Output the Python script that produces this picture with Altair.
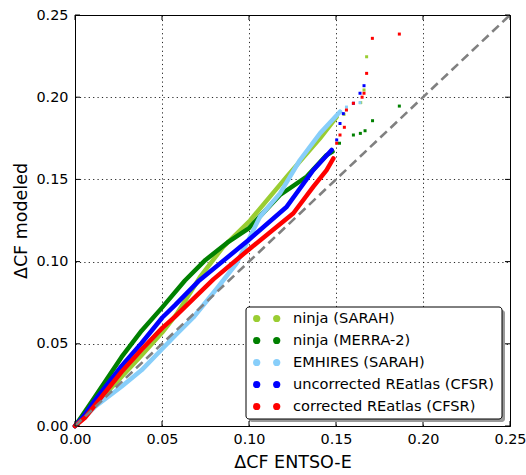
import altair as alt
import pandas as pd

FONT = "DejaVu Sans"

names = ["ninja (SARAH)", "ninja (MERRA-2)", "EMHIRES (SARAH)",
         "uncorrected REatlas (CFSR)", "corrected REatlas (CFSR)"]
colors = ["#9acd32", "#008000", "#87cefa", "#0000ff", "#ff0000"]

# ninja (SARAH)
sarah_x = [0, 0.005, 0.0153, 0.0268, 0.0383, 0.0502, 0.0584, 0.0718, 0.0852, 0.1006, 0.1217, 0.1408, 0.1504,
           0.1546, 0.1642, 0.1661, 0.1676]
sarah_y = [0, 0.006, 0.017, 0.030, 0.043, 0.057, 0.068, 0.0905, 0.109, 0.125, 0.1517, 0.175, 0.188,
           0.1896, 0.1967, 0.2044, 0.2246]
sarah_n_line = 13

# ninja (MERRA-2)
merra_x = [0, 0.0038, 0.0115, 0.0192, 0.0268, 0.0383, 0.050, 0.0632, 0.075, 0.0875, 0.0996, 0.1178, 0.1332,
           0.1446, 0.148,
           0.152, 0.160, 0.164, 0.1667, 0.171, 0.1864]
merra_y = [0, 0.0057, 0.0178, 0.030, 0.042, 0.058, 0.072, 0.0885, 0.101, 0.1115, 0.120, 0.1405, 0.1517,
           0.1648, 0.1669,
           0.172, 0.177, 0.178, 0.1796, 0.1857, 0.1946]
merra_n_line = 15

# EMHIRES (SARAH)
emhires_x = [0, 0.0115, 0.0268, 0.0383, 0.0502, 0.0575, 0.068, 0.0814, 0.0929, 0.1006, 0.1063, 0.1178, 0.1293,
             0.1408, 0.1523, 0.156, 0.1638]
emhires_y = [0, 0.0117, 0.024, 0.034, 0.047, 0.055, 0.066, 0.0835, 0.099, 0.1151, 0.1273, 0.1415, 0.1618,
             0.178, 0.1912, 0.194, 0.1967]
emhires_n_line = 15

# uncorrected REatlas (CFSR)
uncorr_x = [0, 0.005, 0.0115, 0.0268, 0.0383, 0.0502, 0.0575, 0.0709, 0.0996, 0.1217, 0.137, 0.1475,
            0.1504, 0.1523, 0.1542, 0.160, 0.1638, 0.1661]
uncorr_y = [0, 0.006, 0.0158, 0.0365, 0.0505, 0.066, 0.0735, 0.088, 0.113, 0.1334, 0.1557, 0.1679,
            0.174, 0.184, 0.190, 0.1963, 0.2024, 0.207]
uncorr_n_line = 12

# corrected REatlas (CFSR)
corr_x = [0, 0.0057, 0.0153, 0.0268, 0.0383, 0.0502, 0.0575, 0.0795, 0.0996, 0.1255, 0.137, 0.1446, 0.1485,
          0.1504, 0.1523, 0.1548, 0.156, 0.160, 0.165, 0.1661, 0.1676, 0.1709, 0.1864]
corr_y = [0, 0.005, 0.0178, 0.033, 0.0465, 0.0597, 0.0665, 0.0892, 0.1071, 0.1294, 0.1456, 0.1557, 0.1628,
          0.172, 0.177, 0.1817, 0.1922, 0.1963, 0.200, 0.2024, 0.2145, 0.2358, 0.2384]
corr_n_line = 13

ticks = [0.0, 0.05, 0.10, 0.15, 0.20, 0.25]
diag = [0.0, 0.25]

W, H = 435, 411

series = [
    (sarah_x, sarah_y, sarah_n_line),
    (merra_x, merra_y, merra_n_line),
    (emhires_x, emhires_y, emhires_n_line),
    (uncorr_x, uncorr_y, uncorr_n_line),
    (corr_x, corr_y, corr_n_line),
]

line_rows, tail_rows = [], []
for k, (xs, ys, n) in enumerate(series):
    for i, (a, b) in enumerate(zip(xs, ys)):
        row = {"series": names[k], "k": k, "i": i, "x": a, "y": b}
        if i < n:
            line_rows.append(row)
        else:
            tail_rows.append(row)
line_df = pd.DataFrame(line_rows)
tail_df = pd.DataFrame(tail_rows)

xs_scale = alt.Scale(domain=[0, 0.25], nice=False, zero=False)
ys_scale = alt.Scale(domain=[0, 0.25], nice=False, zero=False)
color_scale = alt.Scale(domain=names, range=colors)

x_axis = alt.Axis(values=ticks, format=".2f", title="ΔCF ENTSO-E", tickSize=0, labelPadding=6,
                  grid=True, gridDash=[1.2, 3.2], gridColor="#000000", gridWidth=1, gridOpacity=0.85,
                  titlePadding=8, labelFlush=False)
y_axis = alt.Axis(values=ticks, format=".2f", title="ΔCF modeled", tickSize=0, labelPadding=7,
                  grid=True, gridDash=[1.2, 3.2], gridColor="#000000", gridWidth=1, gridOpacity=0.85,
                  titlePadding=5, labelFlush=False)

base_grid = alt.Chart(pd.DataFrame({"x": diag, "y": diag})).mark_point(opacity=0).encode(
    x=alt.X("x:Q", scale=xs_scale, axis=x_axis),
    y=alt.Y("y:Q", scale=ys_scale, axis=y_axis),
)

layers = [base_grid]
for k in range(5):
    sub = line_df[line_df.k == k]
    layers.append(
        alt.Chart(sub).mark_line(strokeWidth=4.5, strokeJoin="round", strokeCap="round").encode(
            x=alt.X("x:Q", scale=xs_scale),
            y=alt.Y("y:Q", scale=ys_scale),
            color=alt.Color("series:N", scale=color_scale, legend=None),
            order=alt.Order("i:Q"),
        )
    )
    subt = tail_df[tail_df.k == k]
    layers.append(
        alt.Chart(subt).mark_square(size=9, opacity=1).encode(
            x=alt.X("x:Q", scale=xs_scale),
            y=alt.Y("y:Q", scale=ys_scale),
            color=alt.Color("series:N", scale=color_scale, legend=None),
        )
    )

diag_layer = alt.Chart(pd.DataFrame({"x": diag, "y": diag})).mark_line(
    color="#808080", strokeWidth=2.6, strokeDash=[9, 5]
).encode(x=alt.X("x:Q", scale=xs_scale), y=alt.Y("y:Q", scale=ys_scale))
layers.append(diag_layer)

# inward ticks on all four sides
tick_df = pd.DataFrame({"t": ticks})
tick_style = dict(color="#000000", strokeWidth=1)
layers += [
    alt.Chart(tick_df).mark_rule(**tick_style).encode(
        x=alt.X("t:Q", scale=xs_scale), y=alt.value(H), y2=alt.value(H - 5)),
    alt.Chart(tick_df).mark_rule(**tick_style).encode(
        x=alt.X("t:Q", scale=xs_scale), y=alt.value(0), y2=alt.value(5)),
    alt.Chart(tick_df).mark_rule(**tick_style).encode(
        y=alt.Y("t:Q", scale=ys_scale), x=alt.value(0), x2=alt.value(5)),
    alt.Chart(tick_df).mark_rule(**tick_style).encode(
        y=alt.Y("t:Q", scale=ys_scale), x=alt.value(W), x2=alt.value(W - 5)),
]

# legend (manual, two markers per entry like matplotlib)
lx0, lx1, ly0, ly1 = 171, 427, 292, 404
box_df = pd.DataFrame({"a": [lx0], "b": [lx1], "c": [ly0], "d": [ly1]})
shadow = alt.Chart(box_df).mark_rect(color="#999999", cornerRadius=3).encode(
    x=alt.X("a:Q", scale=None), x2="b:Q", y=alt.Y("c:Q", scale=None), y2="d:Q"
).transform_calculate(a="datum.a + 3", b="datum.b + 3", c="datum.c + 3", d="datum.d + 3")
box = alt.Chart(box_df).mark_rect(fill="#ffffff", stroke="#000000", strokeWidth=1, cornerRadius=3).encode(
    x=alt.X("a:Q", scale=None), x2="b:Q", y=alt.Y("c:Q", scale=None), y2="d:Q"
)
leg_rows = []
for k, nm in enumerate(names):
    yy = 303.5 + 22 * k
    leg_rows.append({"series": nm, "px": 181.7, "py": yy, "tx": 218})
    leg_rows.append({"series": nm, "px": 201.7, "py": yy, "tx": 218})
leg_df = pd.DataFrame(leg_rows)
leg_dots = alt.Chart(leg_df).mark_circle(size=52, opacity=1).encode(
    x=alt.X("px:Q", scale=None), y=alt.Y("py:Q", scale=None),
    color=alt.Color("series:N", scale=color_scale, legend=None),
)
leg_text = alt.Chart(leg_df.drop_duplicates("series")).mark_text(
    align="left", baseline="middle", font=FONT, fontSize=14.6, color="#000000"
).encode(x=alt.X("tx:Q", scale=None), y=alt.Y("py:Q", scale=None), text="series:N")
layers += [shadow, box, leg_dots, leg_text]

chart = alt.layer(*layers).properties(
    width=W, height=H,
    autosize="none",
    padding={"left": 75, "top": 15, "right": 16, "bottom": 49},
).configure_view(
    stroke="#000000", strokeWidth=1
).configure_axis(
    labelFont=FONT, titleFont=FONT, labelFontSize=14.4, titleFontSize=17.5,
    titleFontWeight="normal", labelColor="#000000", titleColor="#000000",
    domainColor="#000000", domainWidth=1,
)

chart.save("out.html", embed_options={"renderer": "svg", "actions": False})
